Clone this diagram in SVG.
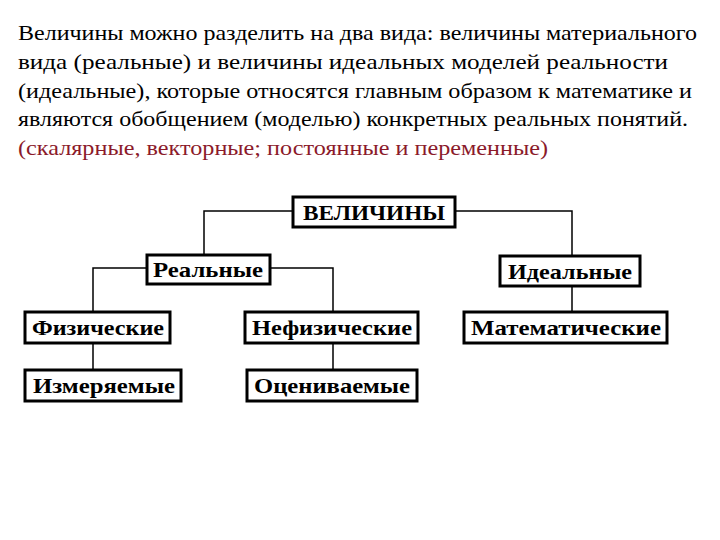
<svg xmlns="http://www.w3.org/2000/svg" width="720" height="540" viewBox="0 0 720 540">
<style>
.t{font-family:"Liberation Serif",serif;font-size:22px;fill:#000}
.box{fill:#fff;stroke:#000;stroke-width:3}
.lbl{font-family:"Liberation Serif",serif;font-size:21px;font-weight:bold;text-anchor:middle;fill:#000}
.c{fill:none;stroke:#000;stroke-width:1.5}
</style>
<rect width="720" height="540" fill="#fff"/>
<text class="t" x="18" y="40" textLength="679" lengthAdjust="spacingAndGlyphs">Величины можно разделить на два вида: величины материального</text>
<text class="t" x="18" y="69" textLength="650" lengthAdjust="spacingAndGlyphs">вида (реальные) и величины идеальных моделей реальности</text>
<text class="t" x="18" y="98" textLength="674" lengthAdjust="spacingAndGlyphs">(идеальные), которые относятся главным образом к математике и</text>
<text class="t" x="18" y="126" textLength="670" lengthAdjust="spacingAndGlyphs">являются обобщением (моделью) конкретных реальных понятий.</text>
<text class="t" x="18" y="155" textLength="530" lengthAdjust="spacingAndGlyphs" style="fill:#8B1A2A">(скалярные, векторные; постоянные и переменные)</text>
<g id="connectors">
<path class="c" d="M293 211H204V255M455 211H572V256M147 268H93V312M270 268H333V312M572 286V312M93 343V370M333 343V370"/>
</g>
<g id="n1"><rect class="box" x="293" y="197" width="162" height="30"/><text class="lbl" x="374" y="220" textLength="142" lengthAdjust="spacingAndGlyphs">ВЕЛИЧИНЫ</text></g>
<g id="n2"><rect class="box" x="147" y="255" width="123" height="29"/><text class="lbl" x="208" y="277" textLength="110" lengthAdjust="spacingAndGlyphs">Реальные</text></g>
<g id="n3"><rect class="box" x="500" y="256" width="140" height="30"/><text class="lbl" x="570" y="279" textLength="124" lengthAdjust="spacingAndGlyphs">Идеальные</text></g>
<g id="n4"><rect class="box" x="25" y="312" width="145" height="31"/><text class="lbl" x="98" y="335" textLength="132" lengthAdjust="spacingAndGlyphs">Физические</text></g>
<g id="n5"><rect class="box" x="245" y="312" width="173" height="31"/><text class="lbl" x="332" y="335" textLength="160" lengthAdjust="spacingAndGlyphs">Нефизические</text></g>
<g id="n6"><rect class="box" x="464" y="312" width="203" height="31"/><text class="lbl" x="566" y="335" textLength="190" lengthAdjust="spacingAndGlyphs">Математические</text></g>
<g id="n7"><rect class="box" x="25" y="370" width="156" height="31"/><text class="lbl" x="104" y="393" textLength="142" lengthAdjust="spacingAndGlyphs">Измеряемые</text></g>
<g id="n8"><rect class="box" x="247" y="370" width="170" height="31"/><text class="lbl" x="332" y="393" textLength="156" lengthAdjust="spacingAndGlyphs">Оцениваемые</text></g>
</svg>
